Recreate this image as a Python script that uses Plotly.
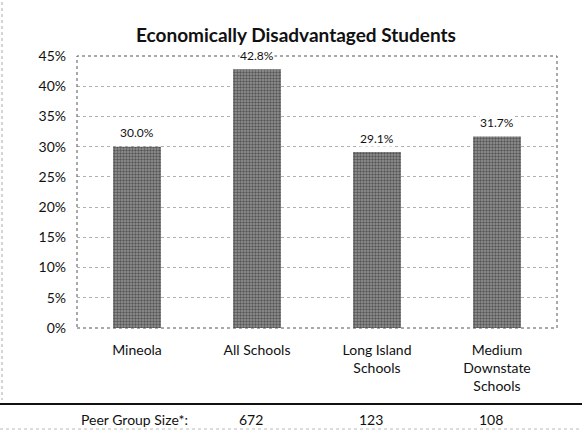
import plotly.graph_objects as go

categories = ["Mineola", "All Schools", "Long Island<br>Schools", "Medium<br>Downstate<br>Schools"]
values = [30.0, 42.8, 29.1, 31.7]
value_labels = ["30.0%", "42.8%", "29.1%", "31.7%"]
peer_categories = ["All Schools", "Long Island<br>Schools", "Medium<br>Downstate<br>Schools"]
peer_sizes = ["672", "123", "108"]
y_ticks = [0, 5, 10, 15, 20, 25, 30, 35, 40, 45]
y_tick_labels = [f"{v}%" for v in y_ticks]

FONT = "Lato, Carlito, Calibri, sans-serif"

fig = go.Figure()
fig.add_trace(go.Bar(
    x=categories, y=values,
    width=0.4,
    marker=dict(
        color="#6e6e6e",
        line=dict(width=0),
        pattern=dict(shape=".", fgcolor="#1a1a1a", bgcolor="#959595", size=3, solidity=0.5),
    ),
    hoverinfo="skip",
))

for c, v, t in zip(categories, values, value_labels):
    fig.add_annotation(text=t, x=c, y=v, xref="x", yref="y", yshift=14,
                       xanchor="center", yanchor="middle", showarrow=False,
                       bgcolor="white", borderpad=0,
                       font=dict(family=FONT, size=12, color="#111"))

fig.update_layout(
    width=582, height=432,
    margin=dict(l=77, r=25, t=56, b=104),
    paper_bgcolor="white", plot_bgcolor="white",
    showlegend=False,
    title=dict(text="<b>Economically Disadvantaged Students</b>",
               x=296/582, xanchor="center", y=1-35/432, yanchor="middle",
               font=dict(family=FONT, size=19, color="#111")),
    font=dict(family=FONT, size=13, color="#111"),
    xaxis=dict(
        showgrid=False, ticks="", showline=False, zeroline=False,
        tickfont=dict(family=FONT, size=14, color="#111"),
        ticklabelstandoff=12,
    ),
    yaxis=dict(
        range=[0, 45], tickvals=y_ticks, ticktext=y_tick_labels,
        showgrid=True, gridcolor="#b0b0b0", griddash="dot", gridwidth=1,
        zeroline=False, showline=False, ticks="",
        tickfont=dict(family=FONT, size=14, color="#111"),
        ticklabelstandoff=10,
    ),
)

# dotted plot-area border
fig.add_shape(type="rect", xref="paper", yref="paper", x0=0, x1=1, y0=0, y1=1,
              line=dict(color="#555", width=1, dash="dot"), layer="above")

# table separator line
plot_h = 432 - 56 - 104
plot_w = 582 - 77 - 25
fig.add_shape(type="line", xref="paper", yref="paper",
              x0=-77/plot_w, x1=(582-77)/plot_w,
              y0=(328-404)/plot_h, y1=(328-404)/plot_h,
              line=dict(color="#111", width=2))

# faint outer scan border
fig.add_shape(type="line", xref="paper", yref="paper",
              x0=-75/plot_w, x1=-75/plot_w, y0=(328-2)/plot_h, y1=(328-400)/plot_h,
              line=dict(color="#aaa", width=1, dash="dot"))
fig.add_shape(type="line", xref="paper", yref="paper",
              x0=-77/plot_w, x1=(582-77)/plot_w,
              y0=(328-429)/plot_h, y1=(328-429)/plot_h,
              line=dict(color="#bbb", width=1, dash="dot"))

ann_y = (328-419)/plot_h
fig.add_annotation(text="Peer Group Size*:", xref="paper", yref="paper",
                   x=(190-77)/plot_w, y=ann_y, xanchor="right", yanchor="middle",
                   showarrow=False, font=dict(family=FONT, size=14, color="#111"))
for c, s in zip(peer_categories, peer_sizes):
    fig.add_annotation(text=s, xref="x", yref="paper", x=c, y=ann_y,
                       xanchor="center", yanchor="middle", xshift=-6,
                       showarrow=False, font=dict(family=FONT, size=14, color="#111"))

fig.write_html("out.html", config={"displayModeBar": False},
               post_script="document.body.style.margin='0';document.body.style.padding='0';")
